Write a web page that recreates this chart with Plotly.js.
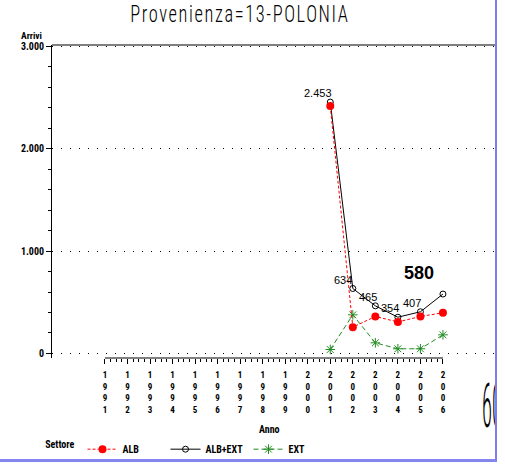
<!DOCTYPE html>
<html><head><meta charset="utf-8">
<script src="https://cdn.plot.ly/plotly-3.0.1.min.js"></script>
<style>
html,body{margin:0;padding:0;background:#fff;}
#wrap{width:495px;height:459px;overflow:hidden;border-right:2px solid #7d7df2;border-bottom:3px solid #8585f0;}
#chart .gtitle{letter-spacing:2px;transform-box:fill-box;transform-origin:center;transform:scaleX(0.8);}
#chart .annotation[data-index="8"] text{transform-box:fill-box;transform-origin:left center;transform:scaleX(0.33);}
</style></head>
<body><div id="wrap"><div id="chart" style="width:505px;height:465px;"></div></div>
<script>
const years = [1991,1992,1993,1994,1995,1996,1997,1998,1999,2000,2001,2002,2003,2004,2005,2006];
const dataYears = [2001,2002,2003,2004,2005,2006];
const alb = [2414,257,361,308,361,398];
const ext = [39,377,104,46,46,182];
const albExt = [2453,634,465,354,407,580];
const albExtLabels = ['2.453','634','465','354','407','580'];
const yTicks = [0,1000,2000,3000];
const yTickText = ['0','1.000','2.000','3.000'];

const narrow = 'Roboto Condensed, DejaVu Sans Condensed, sans-serif';
const minorX = [];
for (let i = 0; i < years.length - 1; i++) for (let k = 1; k < 4; k++) minorX.push(years[i] + k/4);
const minorY = [];
for (let v = 0; v <= 3000; v += 200) if (v % 1000 !== 0) minorY.push(v);
const xRange = [1988.65, 2008.31];

const traces = [
  {x: dataYears, y: ext, name: 'EXT', mode: 'lines+markers', legendrank: 3,
   line: {color: '#228b22', width: 1, dash: '5px,3px'},
   marker: {symbol: 'asterisk-open', size: 8, color: '#228b22', line: {color: '#228b22', width: 1}}},
  {x: dataYears, y: albExt, name: 'ALB+EXT', mode: 'lines+markers', legendrank: 2,
   line: {color: '#000', width: 1},
   marker: {symbol: 'circle-open', size: 6, color: '#000', line: {color: '#000', width: 1}}},
  {x: dataYears, y: alb, name: 'ALB', mode: 'lines+markers', legendrank: 1,
   line: {color: '#ff0000', width: 1, dash: '3px,2px'},
   marker: {symbol: 'circle', size: 8, color: '#ff0000'}}
];

const anns = [];
const offs = [[-12,-9],[-10,-9],[-7,-9],[-8,-9],[-8,-9]];
for (let i = 0; i < 5; i++) {
  anns.push({x: dataYears[i], y: albExt[i], xref: 'x', yref: 'y', text: albExtLabels[i],
    showarrow: true, arrowcolor: 'rgba(0,0,0,0)', ax: offs[i][0], ay: offs[i][1],
    font: {family: 'Liberation Sans, Arial, sans-serif', size: 11, color: '#000'}});
}
anns.push({x: dataYears[5], y: albExt[5], xref: 'x', yref: 'y', text: '<b>' + albExtLabels[5] + '</b>',
  showarrow: true, arrowcolor: 'rgba(0,0,0,0)', ax: -24, ay: -21,
  font: {family: 'Liberation Sans, Arial, sans-serif', size: 18, color: '#000'}});
anns.push({x: -0.047, y: 1.031, xref: 'paper', yref: 'paper', text: '<b>Arrivi</b>', showarrow: false,
  xanchor: 'center', yanchor: 'middle', font: {family: narrow, size: 9.5, color: '#000'}});
anns.push({x: 0.492, y: -0.228, xref: 'paper', yref: 'paper', text: '<b>Anno</b>', showarrow: false,
  xanchor: 'center', yanchor: 'middle', font: {family: narrow, size: 10, color: '#000'}});
anns.push({x: 0.966, y: -0.152, xref: 'paper', yref: 'paper', text: '60', showarrow: false,
  xanchor: 'left', yanchor: 'middle', font: {family: narrow, size: 62, weight: 300, color: '#000'}});

const layout = {
  width: 505, height: 465,
  margin: {l: 52, r: 10, t: 45, b: 106.5, autoexpand: false},
  paper_bgcolor: '#fff', plot_bgcolor: '#fff',
  showlegend: true,
  title: {text: 'Provenienza=13-POLONIA', x: 0.475, xanchor: 'center', y: 0.97, yanchor: 'middle',
    font: {family: narrow, size: 23, weight: 300, color: '#000'}},
  xaxis: {range: xRange, showline: false, showgrid: false, zeroline: false, automargin: false,
    tickmode: 'array', tickvals: years, ticktext: years.map(y => String(y).split('').join('<br>')),
    ticks: 'outside', ticklen: 5, tickcolor: '#000', tickwidth: 1, ticklabelstandoff: 3,
    tickfont: {family: narrow, size: 9, weight: 'bold', color: '#000'},
    minor: {tickmode: 'array', tickvals: minorX, ticks: 'outside', ticklen: 3, tickcolor: '#000', showgrid: false}},
  yaxis: {range: [-44, 3010], showline: true, linecolor: '#000', linewidth: 1, zeroline: false, automargin: false,
    tickmode: 'array', tickvals: yTicks, ticktext: yTickText,
    ticks: 'outside', ticklen: 5, tickcolor: '#000',
    showgrid: true, gridcolor: '#000', gridwidth: 1, griddash: '1px,8px',
    tickfont: {family: narrow, size: 10, weight: 'bold', color: '#000'},
    minor: {tickmode: 'array', tickvals: minorY, ticks: 'outside', ticklen: 3, tickcolor: '#000', showgrid: false}},
  legend: {orientation: 'h', x: -0.02, xanchor: 'left', y: -0.245, yanchor: 'top',
    title: {text: '<b>Settore</b>', side: 'left', font: {family: narrow, size: 10, color: '#000'}},
    font: {family: narrow, size: 10, weight: 'bold', color: '#000'}, traceorder: 'normal', itemwidth: 30,
    entrywidth: 38, entrywidthmode: 'pixels',
    bgcolor: 'rgba(0,0,0,0)'},
  shapes: [
    {type: 'line', xref: 'x', yref: 'paper', x0: years[0], x1: years[years.length-1], y0: 0, y1: 0,
     line: {color: '#000', width: 1}},
    {type: 'line', xref: 'x', yref: 'paper', x0: xRange[0], x1: xRange[1], y0: 1, y1: 1,
     line: {color: '#000', width: 1}}
  ],
  annotations: anns
};
Plotly.newPlot('chart', traces, layout, {displayModeBar: false, staticPlot: true});
</script></body></html>
